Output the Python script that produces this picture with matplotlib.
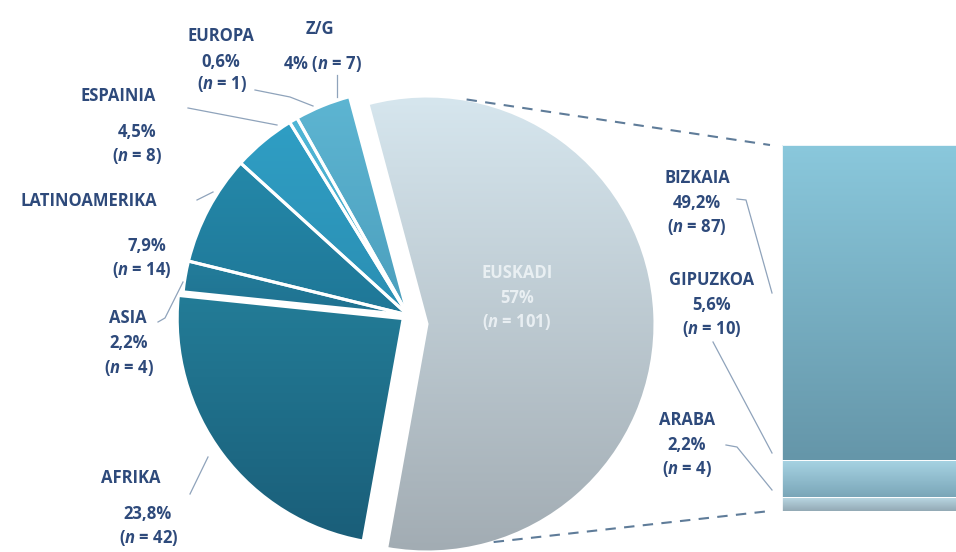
import numpy as np
import matplotlib.pyplot as plt
from matplotlib.colors import to_rgb

FONT = 'Open Sans'
plt.rcParams['font.family'] = [FONT, 'DejaVu Sans']
plt.rcParams['mathtext.fontset'] = 'custom'
plt.rcParams['mathtext.it'] = FONT + ':italic:bold'
plt.rcParams['mathtext.rm'] = FONT + ':bold'

# data
regions = ['EUSKADI', 'AFRIKA', 'ASIA', 'LATINOAMERIKA', 'ESPAINIA', 'EUROPA', 'Z/G']
region_pct = [57, 23.8, 2.2, 7.9, 4.5, 0.6, 4]
region_n = [101, 42, 4, 14, 8, 1, 7]

provinces = ['BIZKAIA', 'GIPUZKOA', 'ARABA']
province_pct = [49.2, 5.6, 2.2]
province_n = [87, 10, 4]

W, H = 956, 552
TXT = '#2e4a7b'
LEAD = '#8fa3bb'
FS = 12


def img(x, y):
    # picture coords (y down) -> data coords (y up)
    return x, H - y


def pct_str(v):
    return ('%g' % v).replace('.', ',') + '%'


def n_str(n):
    return '($\\mathit{n}$ = %d)' % n


def gradient_fill(ax, patch, top, bottom, z):
    bb = patch.get_path().get_extents(patch.get_transform())
    bb = bb.transformed(ax.transData.inverted())
    t = np.linspace(0, 1, 256)[:, None, None]
    grad = (1 - t) * np.array(to_rgb(top)) + t * np.array(to_rgb(bottom))
    im = ax.imshow(grad, extent=(bb.x0, bb.x1, bb.y0, bb.y1), origin='upper',
                   aspect='auto', interpolation='bicubic', zorder=z)
    im.set_clip_path(patch)


fig = plt.figure(figsize=(W / 100, H / 100), dpi=100)
ax = fig.add_axes([0, 0, 1, 1])
ax.set_autoscale_on(False)

pie_top = ['#d6e6ee', '#237c97', '#237d9b', '#2488a9', '#2f9ec4', '#4fb6d6', '#5db5d2']
pie_bot = ['#a2acb3', '#1a5e79', '#1f7190', '#1f7797', '#2b8fb3', '#45a6c6', '#4c9fbd']

cx, cy = img(408, 315)
# explode is in data units (pixels here)
wedges, _ = ax.pie(region_pct, startangle=105, counterclock=False,
                   center=(cx, cy), radius=226,
                   explode=[0, 6, 0, 0, 0, 0, 0],
                   wedgeprops=dict(edgecolor='white', linewidth=2.2))
# pull the Euskadi slice out towards the bar
wedges[0].set_center((cx + 19, cy - 9))
wedges[0].set_radius(228)
ax.set_xlim(0, W)
ax.set_ylim(0, H)
ax.set_aspect('equal', adjustable='box')
ax.axis('off')

for w, c1, c2 in zip(wedges, pie_top, pie_bot):
    gradient_fill(ax, w, c1, c2, 2)
    w.set_facecolor('none')
    w.set_zorder(3)

# stacked bar for Euskadi
bar_left, bar_w = 782, 180
bar_top, bar_bot = H - 145, H - 511
scale = (bar_top - bar_bot) / sum(province_n)
bar_top_c = ['#8ac8dc', '#a7d3e3', '#bddce7']
bar_bot_c = ['#6596a9', '#7aa6b8', '#93a9b5']
bottom = bar_bot
for name, n, c1, c2 in list(zip(provinces, province_n, bar_top_c, bar_bot_c))[::-1]:
    b = ax.bar(bar_left, n * scale, bar_w, bottom=bottom, align='edge',
               color=c2, edgecolor='white', linewidth=0.6, zorder=3)[0]
    gradient_fill(ax, b, c1, c2, 2)
    b.set_facecolor('none')
    bottom += n * scale

# dashed connectors
ew = wedges[0]
ecx, ecy = ew.center
er = ew.r
for ang, by in [(80, bar_top), (-73, bar_bot)]:
    a = np.deg2rad(ang)
    ax.plot([ecx + er * np.cos(a), bar_left - 12], [ecy + er * np.sin(a), by],
            ls=(0, (5, 4)), color='#5f7c99', lw=1.5, zorder=4)

# labels
labels = {
    'Z/G': [('Z/G', 320, 29)],
    'EUROPA': [('EUROPA', 221, 36), (None, 221, 62), ('n', 222, 84)],
    'ESPAINIA': [('ESPAINIA', 118, 96), (None, 137, 132), ('n', 137, 156)],
    'LATINOAMERIKA': [('LATINOAMERIKA', 89, 201), (None, 147, 246), ('n', 142, 270)],
    'ASIA': [('ASIA', 128, 318), (None, 129, 343), ('n', 129, 368)],
    'AFRIKA': [('AFRIKA', 131, 478), (None, 148, 514), ('n', 149, 538)],
}
for name, pct, n in zip(regions, region_pct, region_n):
    if name == 'EUSKADI':
        continue
    for kind, x, y in labels[name]:
        if kind is None:
            s = pct_str(pct)
        elif kind == 'n':
            s = n_str(n)
        else:
            s = kind
        ax.text(*img(x, y), s, ha='center', va='center', color=TXT,
                fontsize=FS, fontweight='bold', zorder=6)
    if name == 'Z/G':
        ax.text(*img(322, 64), pct_str(pct) + ' ' + n_str(n),
                ha='center', va='center', color=TXT, fontsize=FS,
                fontweight='bold', zorder=6)

for s, y in [('EUSKADI', 273), (pct_str(region_pct[0]), 298),
             (n_str(region_n[0]), 322)]:
    ax.text(*img(517, y), s, ha='center', va='center', color='#eef3f6',
            fontsize=FS, fontweight='bold', zorder=6, alpha=0.9)

prov_pos = {'BIZKAIA': (697, 178), 'GIPUZKOA': (712, 280), 'ARABA': (687, 420)}
for name, pct, n in zip(provinces, province_pct, province_n):
    x, y = prov_pos[name]
    for s, dy in [(name, 0), (pct_str(pct), 25), (n_str(n), 49)]:
        ax.text(*img(x, y + dy), s, ha='center', va='center', color=TXT,
                fontsize=FS, fontweight='bold', zorder=6)

# leader lines
leaders = [
    [(337, 75), (337, 97)],
    [(255, 90), (290, 97), (313, 106)],
    [(188, 108), (277, 125)],
    [(197, 200), (213, 192)],
    [(158, 322), (165, 318), (183, 282)],
    [(190, 494), (208, 457)],
    [(737, 199), (746, 200), (772, 293)],
    [(713, 342), (772, 453)],
    [(726, 445), (737, 447), (772, 490)],
]
for pts in leaders:
    xs, ys = zip(*[img(px, py) for px, py in pts])
    ax.plot(xs, ys, color=LEAD, lw=0.9, zorder=5)

ax.set_xlim(0, W)
ax.set_ylim(0, H)
fig.savefig('out.png', dpi=100)
